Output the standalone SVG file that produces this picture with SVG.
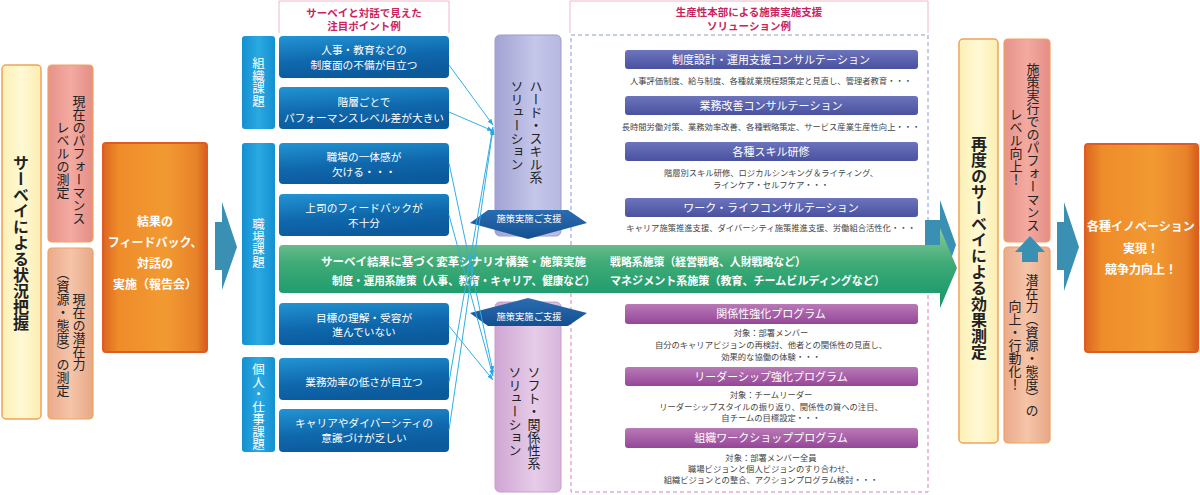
<svg xmlns="http://www.w3.org/2000/svg" width="1200" height="495" viewBox="0 0 1200 495">
<style>
text{font-family:"Noto Sans CJK JP","Noto Sans",sans-serif;}
.v{writing-mode:vertical-rl;}
.wb{fill:#fff;font-size:10.7px;text-anchor:middle;}
.hd{fill:#fff;font-size:11px;text-anchor:middle;}
.ds{fill:#444;font-size:8.3px;text-anchor:middle;}
.pk{fill:#c8245e;font-size:10.5px;font-weight:bold;text-anchor:middle;}
.gt{fill:#fff;font-size:11.5px;font-weight:bold;}
.sup{fill:#fff;font-size:9.3px;text-anchor:middle;}
.cat{fill:#fff;font-size:12.5px;}
.dk{fill:#222;font-size:13px;}
.conn{stroke:#33aee6;stroke-width:1;fill:none;marker-end:url(#ah);}
</style>
<defs>
<linearGradient id="gY" x1="0" y1="0" x2="1" y2="0"><stop offset="0" stop-color="#fdf0b6"/><stop offset="0.5" stop-color="#fff9d4"/><stop offset="1" stop-color="#fcedb0"/></linearGradient>
<linearGradient id="gP" x1="0" y1="0" x2="1" y2="0"><stop offset="0" stop-color="#e6928a"/><stop offset="0.5" stop-color="#f3aaa0"/><stop offset="1" stop-color="#e48e86"/></linearGradient>
<linearGradient id="gS" x1="0" y1="0" x2="1" y2="0"><stop offset="0" stop-color="#eaaa8c"/><stop offset="0.5" stop-color="#f6c4a8"/><stop offset="1" stop-color="#e6a888"/></linearGradient>
<linearGradient id="gO" x1="0" y1="0" x2="1" y2="0"><stop offset="0" stop-color="#dc6620"/><stop offset="0.15" stop-color="#ee8c2a"/><stop offset="0.6" stop-color="#f29a32"/><stop offset="0.9" stop-color="#e8822a"/><stop offset="1" stop-color="#d45e1a"/></linearGradient>
<linearGradient id="gC" x1="0" y1="0" x2="1" y2="0"><stop offset="0" stop-color="#1590d0"/><stop offset="0.5" stop-color="#2aa9e2"/><stop offset="1" stop-color="#1590d0"/></linearGradient>
<linearGradient id="gB" x1="0" y1="0" x2="0.3" y2="1"><stop offset="0" stop-color="#2294d4"/><stop offset="0.6" stop-color="#0f68ac"/><stop offset="1" stop-color="#0b5a9c"/></linearGradient>
<linearGradient id="gG" x1="0" y1="0" x2="0" y2="1"><stop offset="0" stop-color="#8acb9c"/><stop offset="0.45" stop-color="#3eaa76"/><stop offset="1" stop-color="#12966a"/></linearGradient>
<linearGradient id="gH" x1="0" y1="0" x2="1" y2="0"><stop offset="0" stop-color="#a2a3d2"/><stop offset="0.6" stop-color="#c4c6ea"/><stop offset="1" stop-color="#b6b8e0"/></linearGradient>
<linearGradient id="gSo" x1="0" y1="0" x2="1" y2="0"><stop offset="0" stop-color="#cfa6d3"/><stop offset="0.6" stop-color="#e6cce8"/><stop offset="1" stop-color="#d8b6dc"/></linearGradient>
<linearGradient id="gHB" x1="0" y1="0" x2="0" y2="1"><stop offset="0" stop-color="#6c74bc"/><stop offset="1" stop-color="#4a52a0"/></linearGradient>
<linearGradient id="gHP" x1="0" y1="0" x2="0" y2="1"><stop offset="0" stop-color="#b87ab6"/><stop offset="1" stop-color="#964698"/></linearGradient>
<linearGradient id="gD" x1="0" y1="0" x2="0" y2="1"><stop offset="0" stop-color="#2a6cb2"/><stop offset="1" stop-color="#145090"/></linearGradient>
<marker id="ah" viewBox="0 0 10 10" refX="10" refY="5" markerWidth="6" markerHeight="6" orient="auto"><path d="M0,1 L10,5 L0,9 z" fill="#2aa6e0"/></marker>
</defs>
<rect width="1200" height="495" fill="#fff"/>

<g id="survey-start">
<rect x="2" y="65" width="39" height="354" rx="4" fill="url(#gY)" stroke="#efa35a" stroke-width="1.5"/>
<text class="v" x="21" y="243" text-anchor="middle" font-size="16" font-weight="bold" fill="#222">サーベイによる状況把握</text>
</g>
<g id="perf-measure">
<rect x="48" y="65" width="45" height="177" rx="4" fill="url(#gP)" stroke="#efa35a" stroke-width="1.2"/>
<text class="v dk" x="79" y="160" text-anchor="middle">現在のパフォーマンス</text>
<text class="v dk" x="63" y="160" text-anchor="middle">レベルの測定</text>
</g>
<g id="potential-measure">
<rect x="48" y="248" width="45" height="171" rx="4" fill="url(#gS)" stroke="#efa35a" stroke-width="1.2"/>
<text class="v dk" x="79" y="332" text-anchor="middle" font-size="12">現在の潜在力</text>
<text class="v dk" x="63" y="332" text-anchor="middle" font-size="12">（資源・態度）の測定</text>
</g>
<g id="feedback">
<rect x="103" y="143" width="104" height="209" rx="3" fill="url(#gO)" stroke="#e05a26" stroke-width="2"/>
<g fill="#fff" font-size="12" font-weight="bold" text-anchor="middle">
<text x="155" y="226">結果の</text>
<text x="155" y="247">フィードバック、</text>
<text x="155" y="268">対話の</text>
<text x="155" y="289">実施（報告会）</text>
</g>
</g>

<g id="arrow-1"><path d="M215,222 H222 V202 L237,247 L222,290 V270 H215 Z" fill="#3a90b2"/></g>

<g id="header-points">
<path d="M279,33 V1 H449 V33" fill="none" stroke="#f0b8c8" stroke-width="1"/>
<text class="pk" x="364" y="16.5">サーベイと対話で見えた</text>
<text class="pk" x="364" y="29.5">注目ポイント例</text>
</g>

<g id="cat-org">
<rect x="242" y="36" width="33" height="93" rx="3" fill="url(#gC)"/>
<text class="v cat" x="258.5" y="82" text-anchor="middle">組織課題</text>
</g>
<g id="cat-work">
<rect x="242" y="143" width="33" height="202" rx="3" fill="url(#gC)"/>
<text class="v cat" x="258.5" y="243" text-anchor="middle">職場課題</text>
</g>
<g id="cat-ind">
<rect x="242" y="357" width="33" height="95" rx="3" fill="url(#gC)"/>
<text class="v cat" x="258.5" y="407" text-anchor="middle" font-size="11.8">個人・仕事課題</text>
</g>

<g id="issue-1"><rect x="279" y="36" width="170" height="42" rx="4" fill="url(#gB)"/><text class="wb" x="364" y="54">人事・教育などの</text><text class="wb" x="364" y="69">制度面の不備が目立つ</text></g>
<g id="issue-2"><rect x="279" y="87" width="170" height="42" rx="4" fill="url(#gB)"/><text class="wb" x="364" y="106">階層ごとで</text><text class="wb" x="364" y="122">パフォーマンスレベル差が大きい</text></g>
<g id="issue-3"><rect x="279" y="143" width="170" height="41" rx="4" fill="url(#gB)"/><text class="wb" x="364" y="161">職場の一体感が</text><text class="wb" x="364" y="176">欠ける・・・</text></g>
<g id="issue-4"><rect x="279" y="194" width="170" height="42" rx="4" fill="url(#gB)"/><text class="wb" x="364" y="212">上司のフィードバックが</text><text class="wb" x="364" y="227">不十分</text></g>
<g id="issue-5"><rect x="279" y="303" width="170" height="42" rx="4" fill="url(#gB)"/><text class="wb" x="364" y="322">目標の理解・受容が</text><text class="wb" x="364" y="336">進んでいない</text></g>
<g id="issue-6"><rect x="279" y="358" width="170" height="42" rx="4" fill="url(#gB)"/><text class="wb" x="364" y="386">業務効率の低さが目立つ</text></g>
<g id="issue-7"><rect x="279" y="409" width="170" height="43" rx="4" fill="url(#gB)"/><text class="wb" x="364" y="427">キャリアやダイバーシティの</text><text class="wb" x="364" y="442">意識づけが乏しい</text></g>

<g id="header-solutions">
<path d="M570,33 V1 H928 V33" fill="none" stroke="#f0b8c8" stroke-width="1"/>
<text class="pk" x="749" y="16">生産性本部による施策実施支援</text>
<text class="pk" x="749" y="29.5">ソリューション例</text>
</g>
<g id="dashed-frame">
<path d="M571,245 V35 H928 V245" fill="none" stroke="#8a9ad0" stroke-width="1" stroke-dasharray="4,3"/>
<path d="M571,293 V492 H928 V293" fill="none" stroke="#d880b8" stroke-width="1" stroke-dasharray="4,3"/>
</g>

<g id="hard-solution">
<rect x="495" y="35" width="66" height="201" rx="5" fill="url(#gH)" stroke="#9c9ecc" stroke-width="1"/>
<text class="v dk" x="536" y="80" font-size="12.5">ハード・スキル系</text>
<text class="v dk" x="517" y="80" font-size="12.5">ソリューション</text>
</g>
<g id="soft-solution">
<rect x="495" y="302" width="66" height="190" rx="5" fill="url(#gSo)" stroke="#c89ccc" stroke-width="1"/>
<text class="v dk" x="534" y="366" font-size="12.5">ソフト・関係性系</text>
<text class="v dk" x="515" y="366" font-size="12.5">ソリューション</text>
</g>

<g id="hard-items">
<rect x="625" y="50" width="293" height="19" rx="3" fill="url(#gHB)"/><text class="hd" x="771" y="64">制度設計・運用支援コンサルテーション</text>
<text class="ds" x="771" y="84">人事評価制度、給与制度、各種就業規程類策定と見直し、管理者教育・・・</text>
<rect x="625" y="96" width="293" height="19" rx="3" fill="url(#gHB)"/><text class="hd" x="771" y="110">業務改善コンサルテーション</text>
<text class="ds" x="771" y="130">長時間労働対策、業務効率改善、各種戦略策定、サービス産業生産性向上・・・</text>
<rect x="625" y="142" width="293" height="19" rx="3" fill="url(#gHB)"/><text class="hd" x="771" y="156">各種スキル研修</text>
<text class="ds" x="771" y="176">階層別スキル研修、ロジカルシンキング＆ライティング、</text>
<text class="ds" x="771" y="188">ラインケア・セルフケア・・・</text>
<rect x="625" y="198" width="293" height="19" rx="3" fill="url(#gHB)"/><text class="hd" x="771" y="212">ワーク・ライフコンサルテーション</text>
<text class="ds" x="771" y="231">キャリア施策推進支援、ダイバーシティ施策推進支援、労働組合活性化・・・</text>
</g>

<g id="soft-items">
<rect x="625" y="304" width="293" height="20" rx="3" fill="url(#gHP)"/><text class="hd" x="771" y="318">関係性強化プログラム</text>
<text class="ds" x="771" y="336">対象：部署メンバー</text>
<text class="ds" x="771" y="348">自分のキャリアビジョンの再検討、他者との関係性の見直し、</text>
<text class="ds" x="771" y="360">効果的な協働の体験・・・</text>
<rect x="625" y="367" width="293" height="19" rx="3" fill="url(#gHP)"/><text class="hd" x="771" y="381">リーダーシップ強化プログラム</text>
<text class="ds" x="771" y="398">対象：チームリーダー</text>
<text class="ds" x="771" y="410">リーダーシップスタイルの振り返り、関係性の質への注目、</text>
<text class="ds" x="771" y="421">自チームの目標設定・・・</text>
<rect x="625" y="428" width="293" height="20" rx="3" fill="url(#gHP)"/><text class="hd" x="771" y="442">組織ワークショッププログラム</text>
<text class="ds" x="771" y="461">対象：部署メンバー全員</text>
<text class="ds" x="771" y="472">職場ビジョンと個人ビジョンのすり合わせ、</text>
<text class="ds" x="771" y="483">組織ビジョンとの整合、アクションプログラム検討・・・</text>
</g>

<g id="arrow-2"><path d="M925,220 H940 V200 L956,245 L940,290 V270 H925 Z" fill="#3a90b2"/></g>

<g id="scenario-arrow">
<path d="M283,245 H940 V228 L957,268 L940,308 V293 H283 Q279,293 279,289 V249 Q279,245 283,245 Z" fill="url(#gG)"/>
<text class="gt" x="321" y="265.5" textLength="265" lengthAdjust="spacingAndGlyphs">サーベイ結果に基づく変革シナリオ構築・施策実施</text>
<text class="gt" x="332" y="284.5" textLength="263" lengthAdjust="spacingAndGlyphs">制度・運用系施策（人事、教育・キャリア、健康など）</text>
<text class="gt" x="610" y="265.5" textLength="196" lengthAdjust="spacingAndGlyphs">戦略系施策（経営戦略、人財戦略など）</text>
<text class="gt" x="610" y="284.5" textLength="275" lengthAdjust="spacingAndGlyphs">マネジメント系施策（教育、チームビルディングなど）</text>
</g>

<g id="support-down">
<path d="M488,210 H568 L587,223 L528,239 L470,223 Z" fill="url(#gD)"/>
<text class="sup" x="529" y="222">施策実施ご支援</text>
</g>
<g id="support-up">
<path d="M528,298 L587,313 L568,326 H488 L470,313 Z" fill="url(#gD)"/>
<text class="sup" x="529" y="320">施策実施ご支援</text>
</g>

<g id="connectors">
<line class="conn" x1="449" y1="65" x2="493" y2="125"/>
<line class="conn" x1="449" y1="112" x2="493" y2="131"/>
<line class="conn" x1="449" y1="382" x2="493" y2="127"/>
<line class="conn" x1="449" y1="430" x2="493" y2="129"/>
<line class="conn" x1="449" y1="163" x2="493" y2="372"/>
<line class="conn" x1="449" y1="215" x2="493" y2="376"/>
<line class="conn" x1="449" y1="326" x2="493" y2="380"/>
</g>

<g id="survey-again">
<rect x="959" y="39" width="39" height="404" rx="4" fill="url(#gY)" stroke="#efa35a" stroke-width="1.5"/>
<text class="v" x="979" y="248" text-anchor="middle" font-size="16" font-weight="bold" fill="#222">再度のサーベイによる効果測定</text>
</g>
<g id="perf-up">
<rect x="1004" y="39" width="46" height="203" rx="4" fill="url(#gP)" stroke="#efa35a" stroke-width="1.2"/>
<text class="v dk" x="1033" y="147" text-anchor="middle">施策実行でのパフォーマンス</text>
<text class="v dk" x="1016" y="147" text-anchor="middle">レベル向上！</text>
</g>
<g id="potential-up">
<rect x="1004" y="247" width="46" height="196" rx="4" fill="url(#gS)" stroke="#efa35a" stroke-width="1.2"/>
<text class="v dk" x="1032" y="345" text-anchor="middle" font-size="12">潜在力（資源・態度）の</text>
<text class="v dk" x="1015" y="345" text-anchor="middle" font-size="12">向上・行動化！</text>
</g>
<g id="arrow-up"><path d="M1030,236 L1045,252 H1038 V262 H1022 V252 H1015 Z" fill="#3a90b2"/></g>

<g id="arrow-3"><path d="M1057,222 H1064 V202 L1079,247 L1064,291 V270 H1057 Z" fill="#3a90b2"/></g>

<g id="innovation">
<rect x="1085" y="144" width="113" height="208" rx="3" fill="url(#gO)" stroke="#e05a26" stroke-width="2"/>
<g fill="#fff" font-size="12" font-weight="bold" text-anchor="middle">
<text x="1141" y="231">各種イノベーション</text>
<text x="1141" y="253">実現！</text>
<text x="1141" y="274">競争力向上！</text>
</g>
</g>
</svg>
